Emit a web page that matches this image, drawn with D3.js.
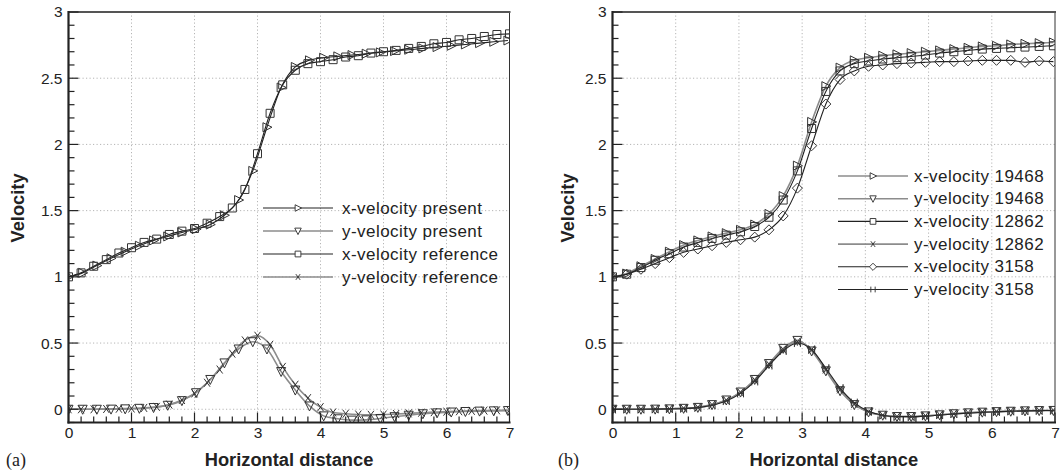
<!DOCTYPE html>
<html><head><meta charset="utf-8">
<script src="https://cdn.jsdelivr.net/npm/d3@7"></script>
<style>body{margin:0;background:#fff}svg{display:block}</style>
</head><body>
<svg id="c" width="1062" height="475"></svg>
<script>
// ---------- data ----------
const xTicks = [0, 1, 2, 3, 4, 5, 6, 7];
const yTicks = [0, 0.5, 1, 1.5, 2, 2.5, 3];
const xTickLabels = ["0", "1", "2", "3", "4", "5", "6", "7"];
const yTickLabels = ["0", "0.5", "1", "1.5", "2", "2.5", "3"];

// Panel (a)
const refX = [0,0.2,0.4,0.6,0.8,1.0,1.2,1.4,1.6,1.8,2.0,2.2,2.4,2.6,2.8,3.0,3.2,3.4,3.6,3.8,4.0,4.2,4.4,4.6,4.8,5.0,5.2,5.4,5.6,5.8,6.0,6.2,6.4,6.6,6.8,7.0];
const presX = [0,0.225,0.45,0.675,0.9,1.125,1.35,1.575,1.8,2.025,2.25,2.475,2.7,2.925,3.15,3.375,3.6,3.825,4.05,4.275,4.5,4.725,4.95,5.175,5.4,5.625,5.85,6.075,6.3,6.525,6.75,6.975];

const xVelPresent = [1.00,1.03,1.085,1.14,1.19,1.235,1.275,1.305,1.335,1.36,1.395,1.465,1.58,1.80,2.13,2.43,2.585,2.635,2.655,2.665,2.675,2.685,2.695,2.705,2.715,2.725,2.735,2.745,2.755,2.765,2.775,2.785];
const yVelPresent = [0,0,0,0.001,0.003,0.007,0.013,0.03,0.065,0.125,0.225,0.35,0.455,0.51,0.455,0.285,0.145,0.025,-0.05,-0.072,-0.082,-0.08,-0.07,-0.056,-0.045,-0.034,-0.027,-0.021,-0.017,-0.014,-0.012,-0.01];
const xVelReference = [1.00,1.03,1.08,1.13,1.18,1.22,1.26,1.285,1.32,1.345,1.365,1.405,1.455,1.52,1.66,1.93,2.235,2.45,2.56,2.61,2.625,2.64,2.66,2.67,2.69,2.70,2.71,2.725,2.74,2.76,2.77,2.79,2.80,2.815,2.83,2.835];
const yVelReference = [0,0,0,0.002,0.004,0.006,0.01,0.018,0.035,0.07,0.12,0.2,0.3,0.42,0.52,0.555,0.487,0.32,0.185,0.084,0.016,-0.024,-0.034,-0.04,-0.042,-0.04,-0.036,-0.031,-0.026,-0.022,-0.018,-0.015,-0.012,-0.01,-0.008,-0.007];

// Panel (b)
const bX = [0,0.225,0.45,0.675,0.9,1.125,1.35,1.575,1.8,2.025,2.25,2.475,2.7,2.925,3.15,3.375,3.6,3.825,4.05,4.275,4.5,4.725,4.95,5.175,5.4,5.625,5.85,6.075,6.3,6.525,6.75,6.975];
const xVel19468 = [1.00,1.025,1.08,1.135,1.19,1.24,1.275,1.305,1.33,1.355,1.395,1.475,1.61,1.84,2.17,2.44,2.58,2.635,2.655,2.67,2.68,2.69,2.70,2.71,2.72,2.73,2.74,2.745,2.755,2.76,2.765,2.77];
const yVel19468 = [0,0,0,0.001,0.003,0.007,0.014,0.035,0.07,0.13,0.225,0.345,0.46,0.52,0.44,0.29,0.14,0.035,-0.02,-0.045,-0.055,-0.055,-0.05,-0.042,-0.034,-0.027,-0.022,-0.018,-0.015,-0.012,-0.01,-0.009];
const xVel12862 = [1.00,1.02,1.07,1.125,1.175,1.225,1.26,1.29,1.315,1.34,1.38,1.45,1.58,1.80,2.12,2.40,2.555,2.61,2.63,2.645,2.655,2.665,2.675,2.69,2.70,2.71,2.72,2.725,2.73,2.735,2.74,2.745];
const yVel12862 = [0,0,0,0.001,0.003,0.007,0.014,0.033,0.068,0.127,0.22,0.34,0.45,0.51,0.45,0.30,0.15,0.04,-0.02,-0.046,-0.056,-0.056,-0.05,-0.042,-0.034,-0.027,-0.022,-0.018,-0.014,-0.012,-0.01,-0.009];
const xVel3158 = [1.00,1.02,1.057,1.10,1.145,1.185,1.21,1.235,1.26,1.28,1.30,1.355,1.46,1.67,1.99,2.305,2.49,2.555,2.59,2.60,2.61,2.615,2.62,2.625,2.625,2.63,2.635,2.635,2.635,2.62,2.63,2.625];
const yVel3158 = [0,0,0,0.001,0.003,0.006,0.012,0.03,0.062,0.12,0.21,0.33,0.44,0.50,0.45,0.31,0.16,0.05,-0.015,-0.045,-0.055,-0.056,-0.052,-0.044,-0.036,-0.029,-0.023,-0.019,-0.015,-0.012,-0.01,-0.009];

const legendA = ["x-velocity present", "y-velocity present", "x-velocity reference", "y-velocity reference"];
const legendB = ["x-velocity 19468", "y-velocity 19468", "x-velocity 12862", "y-velocity 12862", "x-velocity 3158", "y-velocity 3158"];

// ---------- styles ----------
const DARK = "#222", GRAY = "#8c8c8c";
const svg = d3.select("#c");
const FONT = "'Liberation Sans', Arial, Helvetica, sans-serif";

const markerPath = {
  triR: "M-4,-4.5L5,0L-4,4.5Z",
  triD: "M-4.5,-4L4.5,-4L0,5Z",
  square: "M-4,-4L4,-4L4,4L-4,4Z",
  cross: "M-3,-4L3,4M3,-4L-3,4",
  diamond: "M0,-5L5,0L0,5L-5,0Z",
  hbar: "M-3,-4L-3,4M3,-4L3,4M-3,0L3,0"
};

function drawPanel(p) {
  const x = d3.scaleLinear().domain([0, 7]).range([p.x0, p.x1]);
  const y = d3.scaleLinear().domain([-0.1, 3]).range([422.5, 12]);
  const g = svg.append("g");

  // grid
  g.selectAll(".gx").data(xTicks.filter(d => d > 0 && d < 7)).enter().append("line")
    .attr("x1", d => x(d)).attr("x2", d => x(d)).attr("y1", y(3)).attr("y2", y(-0.1))
    .attr("stroke", "#b5b5b5").attr("stroke-width", 1).attr("stroke-dasharray", "1.2,2.3");
  g.selectAll(".gy").data(yTicks.filter(d => d < 3)).enter().append("line")
    .attr("x1", x(0)).attr("x2", x(7)).attr("y1", d => y(d)).attr("y2", d => y(d))
    .attr("stroke", "#b5b5b5").attr("stroke-width", 1).attr("stroke-dasharray", "1.2,2.3");

  // series
  const clip = "clip" + p.id;
  svg.append("clipPath").attr("id", clip).append("rect")
    .attr("x", x(0)).attr("y", y(3)).attr("width", x(7) - x(0)).attr("height", y(-0.1) - y(3));
  const sg = g.append("g").attr("clip-path", `url(#${clip})`);
  p.series.forEach(s => {
    const pts = s.xs.map((xv, i) => [xv, s.ys[i]]);
    const line = d3.line().x(d => x(d[0])).y(d => y(d[1])).curve(d3.curveMonotoneX);
    sg.append("path").attr("d", line(pts)).attr("fill", "none")
      .attr("stroke", s.color).attr("stroke-width", s.color === GRAY ? 1.6 : 1.1);
  });
  p.series.forEach(s => {
    const pts = s.xs.map((xv, i) => [xv, s.ys[i]]);
    sg.selectAll(null).data(pts).enter().append("path")
      .attr("transform", d => `translate(${x(d[0])},${y(d[1])})`)
      .attr("d", markerPath[s.marker]).attr("fill", "none")
      .attr("stroke", "#333").attr("stroke-width", 1);
  });

  // frame
  g.append("rect").attr("x", x(0)).attr("y", y(3)).attr("width", x(7) - x(0)).attr("height", y(-0.1) - y(3))
    .attr("fill", "none").attr("stroke", "#333").attr("stroke-width", 1);
  g.append("line").attr("x1", x(0)).attr("x2", x(7) + 1).attr("y1", y(3)).attr("y2", y(3))
    .attr("stroke", "#555").attr("stroke-width", 2.2);

  // axes via d3
  const xAxis = d3.axisBottom(x).tickValues(xTicks).tickFormat((d, i) => xTickLabels[i]).tickSize(0).tickPadding(4);
  const xa = g.append("g").attr("transform", `translate(0,${y(-0.1)})`).call(xAxis);
  const yAxis = d3.axisLeft(y).tickValues(yTicks).tickFormat((d, i) => yTickLabels[i]).tickSize(0).tickPadding(6);
  const ya = g.append("g").attr("transform", `translate(${x(0)},0)`).call(yAxis);
  [xa, ya].forEach(a => {
    a.select(".domain").remove();
    a.selectAll("text").attr("font-family", FONT).attr("font-size", 15.5).attr("fill", "#222");
  });

  // inward ticks
  const xMinor = d3.range(0, 71, 2).map(d => d / 10);
  g.selectAll(".tx").data(xMinor).enter().append("line")
    .attr("x1", d => x(d)).attr("x2", d => x(d)).attr("y1", y(-0.1))
    .attr("y2", d => y(-0.1) - (Math.abs(d - Math.round(d)) < 1e-6 ? 10 : 6))
    .attr("stroke", "#222").attr("stroke-width", 1.2);
  const yMinor = d3.range(-1, 31).map(d => d / 10);
  g.selectAll(".ty").data(yMinor).enter().append("line")
    .attr("y1", d => y(d)).attr("y2", d => y(d)).attr("x1", x(0))
    .attr("x2", d => x(0) + (Math.abs(d * 2 - Math.round(d * 2)) < 1e-6 ? 10 : 6))
    .attr("stroke", "#222").attr("stroke-width", 1.2);

  // axis lines (left & bottom, thicker)
  g.append("line").attr("x1", x(0)).attr("x2", x(0)).attr("y1", y(3) - 1).attr("y2", y(-0.1) + 1)
    .attr("stroke", "#222").attr("stroke-width", 2.2);
  g.append("line").attr("x1", x(0) - 1).attr("x2", x(7) + 1).attr("y1", y(-0.1)).attr("y2", y(-0.1))
    .attr("stroke", "#222").attr("stroke-width", 2.2);

  // titles
  g.append("text").attr("x", (x(0) + x(7)) / 2).attr("y", 466).attr("text-anchor", "middle")
    .attr("font-family", FONT).attr("font-weight", "bold").attr("font-size", 18.3).attr("fill", "#222")
    .text("Horizontal distance");
  g.append("text").attr("transform", `translate(${p.ytx},208) rotate(-90)`).attr("text-anchor", "middle")
    .attr("dominant-baseline", "central")
    .attr("font-family", FONT).attr("font-weight", "bold").attr("font-size", 18.3).attr("fill", "#222")
    .text("Velocity");
  g.append("text").attr("x", p.labx).attr("y", 466).attr("font-family", "'Liberation Serif', 'Times New Roman', serif")
    .attr("font-size", 18).attr("fill", "#222").text(p.label);

  // legend
  const lg = g.append("g");
  p.series.forEach((s, i) => {
    const ry = p.leg.y0 + i * p.leg.dy;
    lg.append("line").attr("x1", p.leg.x1).attr("x2", p.leg.x2).attr("y1", ry).attr("y2", ry)
      .attr("stroke", s.color).attr("stroke-width", s.color === GRAY ? 1.6 : 1.1);
    lg.append("path").attr("transform", `translate(${(p.leg.x1 + p.leg.x2) / 2},${ry}) scale(0.72)`)
      .attr("d", markerPath[s.marker]).attr("fill", "#fff").attr("stroke", "#333").attr("stroke-width", 1.3);
    lg.append("text").attr("x", p.leg.tx).attr("y", ry).attr("dominant-baseline", "central")
      .attr("font-family", FONT).attr("font-size", 17).attr("letter-spacing", 0.45).attr("fill", "#222")
      .text(s.name);
  });
}

drawPanel({
  id: "a", x0: 68.5, x1: 509.5, ytx: 17.5, labx: 6, label: "(a)",
  leg: { x1: 263, x2: 333, tx: 342, y0: 208, dy: 23 },
  series: [
    { name: legendA[0], xs: presX, ys: xVelPresent, marker: "triR", color: DARK },
    { name: legendA[1], xs: presX, ys: yVelPresent, marker: "triD", color: GRAY },
    { name: legendA[2], xs: refX, ys: xVelReference, marker: "square", color: DARK },
    { name: legendA[3], xs: refX, ys: yVelReference, marker: "cross", color: GRAY }
  ]
});
drawPanel({
  id: "b", x0: 612.5, x1: 1055, ytx: 567.5, labx: 558, label: "(b)",
  leg: { x1: 838, x2: 908, tx: 914, y0: 176, dy: 22.7 },
  series: [
    { name: legendB[0], xs: bX, ys: xVel19468, marker: "triR", color: GRAY },
    { name: legendB[1], xs: bX, ys: yVel19468, marker: "triD", color: GRAY },
    { name: legendB[2], xs: bX, ys: xVel12862, marker: "square", color: DARK },
    { name: legendB[3], xs: bX, ys: yVel12862, marker: "cross", color: GRAY },
    { name: legendB[4], xs: bX, ys: xVel3158, marker: "diamond", color: DARK },
    { name: legendB[5], xs: bX, ys: yVel3158, marker: "hbar", color: DARK }
  ]
});
</script>
</body></html>
